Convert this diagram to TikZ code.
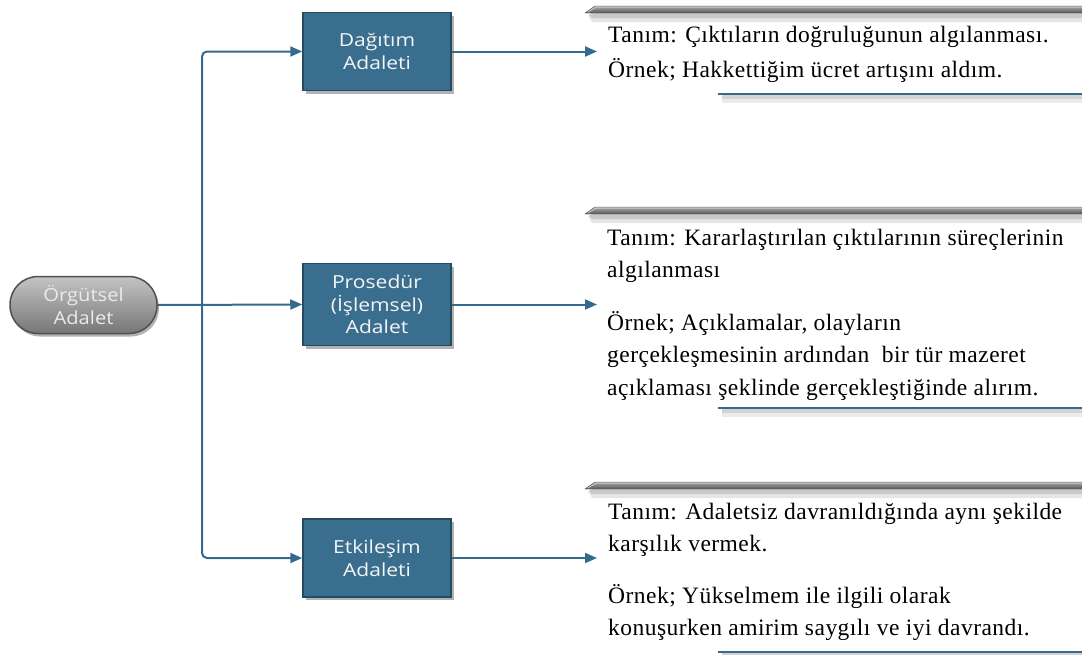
\documentclass[tikz,border=0pt]{standalone}
\usepackage{fontspec}
\setmainfont{Liberation Serif}
\newfontfamily\panelfont[LetterSpace=2.0]{Liberation Serif}
\newfontfamily\boxfont[FakeStretch=1.17]{Open Sans}
\newfontfamily\rootfont[FakeStretch=1.12]{Open Sans}
\usetikzlibrary{arrows.meta,shadows}
\definecolor{boxfill}{RGB}{58,110,142}
\definecolor{boxborder}{RGB}{37,75,99}
\definecolor{connc}{RGB}{52,106,140}
\definecolor{pilltop}{RGB}{196,196,196}
\definecolor{pillbot}{RGB}{118,118,118}
\definecolor{pillborder}{RGB}{80,80,80}
\definecolor{bartop}{RGB}{170,170,170}
\definecolor{barbot}{RGB}{85,85,85}
\begin{document}
\begin{tikzpicture}[x=1pt,y=-1pt,
  conn/.style={draw=connc, line width=2pt, -{Triangle[length=12pt,width=10pt]}},
  cat/.style={draw=boxborder, line width=1.5pt, fill=boxfill, text=white!96!black,
    font=\boxfont\fontsize{18}{22.5}\selectfont, align=center,
    minimum width=148pt, minimum height=78pt, inner sep=0pt,
    drop shadow={shadow xshift=2.5pt, shadow yshift=-3pt, opacity=.3, fill=black}},
  rootbox/.style={draw=pillborder, line width=1.5pt, top color=pilltop, bottom color=pillbot,
    text=white!92!black, rounded corners=28pt,
    font=\rootfont\fontsize{18}{23.5}\selectfont, align=center,
    minimum width=147pt, minimum height=57pt, inner sep=0pt,
    drop shadow={shadow xshift=2pt, shadow yshift=-3pt, opacity=.3, fill=black}},
  txt/.style={anchor=base west, inner sep=0pt, font=\panelfont\fontsize{23.5}{28}\selectfont},
  shelf/.style={top color=bartop, bottom color=barbot, draw=barbot, line width=0.4pt},
  underline/.style={draw=connc, line width=2pt}
]
\useasboundingbox (0,0) rectangle (1082,654);

% root and categories
\node[rootbox] (root) at (83.5,305) {Örgütsel\\Adalet};
\node[cat] (b1) at (377,51.5) {Dağıtım\\Adaleti};
\node[cat, minimum height=82pt] (b2) at (377,304.5) {Prosedür\\(İşlemsel)\\Adalet};
\node[cat] (b3) at (377,558) {Etkileşim\\Adaleti};

% connectors from root
\coordinate (J) at (202,305);
\draw[conn] (root.east) -- (b2.west);
\draw[conn, rounded corners=5pt] (J) |- (b1.west);
\draw[conn, rounded corners=5pt] (J) |- (b3.west);

% arrows to panels
\coordinate (t1) at (597,51.5);
\coordinate (t2) at (597,304.5);
\coordinate (t3) at (597,558);
\draw[conn] (b1.east) -- (t1);
\draw[conn] (b2.east) -- (t2);
\draw[conn] (b3.east) -- (t3);

% panel shelves (top bars) with soft shadows
\foreach \y in {6,207,482}{
  \fill[black, opacity=.10] (588,\y+9) -- (598,\y+3) -- (1082,\y+3) -- (1082,\y+16) -- (592,\y+16) -- cycle;
  \fill[black, opacity=.12] (589,\y+9) -- (598,\y+4) -- (1082,\y+4) -- (1082,\y+12) -- (592,\y+12) -- cycle;
  \path[shelf] (585,\y+7) -- (595,\y) -- (1082,\y) -- (1082,\y+7) -- cycle;
  \draw[white!80!black, line width=0.8pt] (588,\y+6) -- (596,\y+1.2) -- (1082,\y+1.2);
}
% bottom underlines with shadows
\foreach \y in {94,408,652}{
  \fill[black, opacity=.08] (722,\y+1) rectangle (1082,\y+9);
  \fill[black, opacity=.10] (722,\y+1) rectangle (1082,\y+5);
  \draw[underline] (718,\y) -- (1082,\y);
}

% panel 1
\node[txt] (p1a) at (608,42) {Tanım: Çıktıların doğruluğunun algılanması.};
\node[txt] (p1b) at (608,77) {Örnek; Hakkettiğim ücret artışını aldım.};
% panel 2
\node[txt] (p2a) at (607,245) {Tanım: Kararlaştırılan çıktılarının süreçlerinin};
\node[txt] (p2b) at (607,277) {algılanması};
\node[txt] (p2c) at (607,330) {Örnek; Açıklamalar, olayların};
\node[txt] (p2d) at (607,362) {gerçekleşmesinin ardından~ bir tür mazeret};
\node[txt] (p2e) at (607,395) {açıklaması şeklinde gerçekleştiğinde alırım.};
% panel 3
\node[txt] (p3a) at (608,519) {Tanım: Adaletsiz davranıldığında aynı şekilde};
\node[txt] (p3b) at (608,551) {karşılık vermek.};
\node[txt] (p3c) at (608,603) {Örnek; Yükselmem ile ilgili olarak};
\node[txt] (p3d) at (608,635) {konuşurken amirim saygılı ve iyi davrandı.};
\end{tikzpicture}
\end{document}
